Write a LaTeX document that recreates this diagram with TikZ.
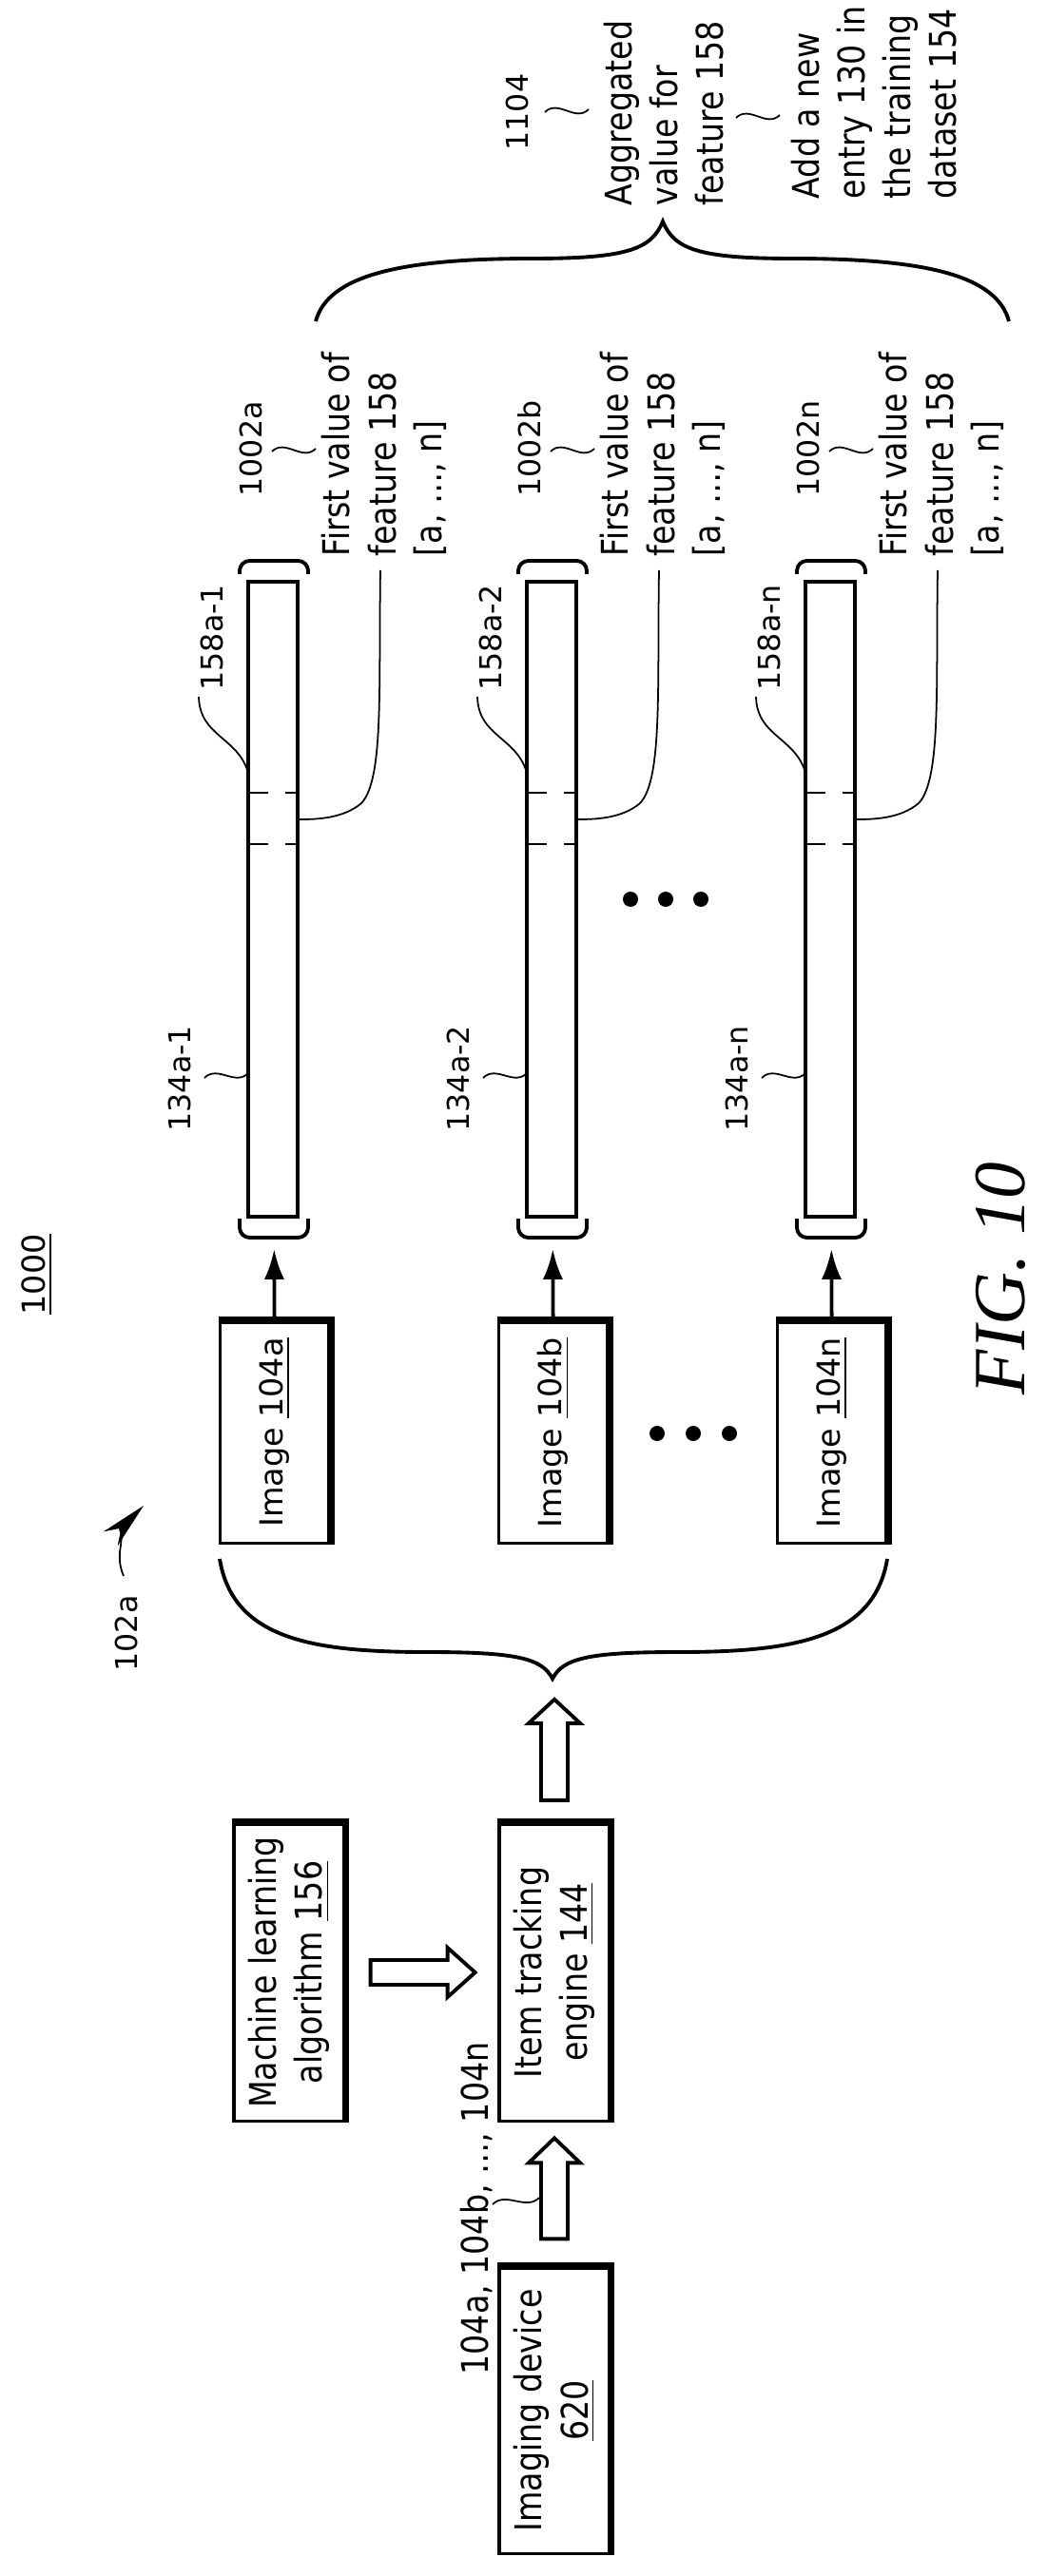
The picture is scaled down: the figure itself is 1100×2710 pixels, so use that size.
\documentclass[tikz,border=0pt]{standalone}
\usepackage{fontspec}
\setmainfont{DejaVu Sans}
\newfontfamily\condfont[FakeStretch=0.86]{DejaVu Sans}
\newfontfamily\figfont{Liberation Serif}
\usetikzlibrary{calc,arrows.meta}
\tikzset{
  box/.style={draw, line width=0.9pt, rotate=90, inner sep=0pt, align=center},
  bar/.style={draw, line width=1.1pt, rotate=90, inner sep=0pt, minimum width=6.68cm, minimum height=0.52cm},
  lbl/.style={rotate=90, anchor=west, inner sep=0pt, font=\fontsize{9}{11}\selectfont},
  txt/.style={rotate=90, anchor=west, inner sep=0pt, align=left, font=\condfont\fontsize{11}{13.7}\selectfont},
  lead/.style={line width=0.5pt},
  hollow/.style={draw, line width=1.1pt, fill=white},
}
\newcommand{\squig}[2]{\draw[lead] #1 .. controls +(14,-14) and +(-14,14) .. #2;}
\begin{document}
\begin{tikzpicture}[x=0.01cm, y=-0.01cm]
\useasboundingbox (0,0) rectangle (1100,2710);
\node[lbl, font=\fontsize{9.5}{11}\selectfont] (fignum) at (39,1384) {\underline{1000}};
\node[rotate=90, font=\figfont\itshape\fontsize{22}{26}\selectfont] (fig) at (1052,1345) {FIG. 10};
% left part
\node[box, minimum width=3.13cm, minimum height=1.16cm, font=\condfont\fontsize{11}{13.7}\selectfont] (ml) at (304,2075) {Machine learning\\algorithm \underline{156}};
\node[box, minimum width=3.13cm, minimum height=1.16cm, font=\condfont\fontsize{11}{13.7}\selectfont] (engine) at (583,2075) {Item tracking\\engine \underline{144}};
\node[box, minimum width=3cm, minimum height=1.16cm, font=\condfont\fontsize{11}{13.7}\selectfont] (camera) at (583,2536) {Imaging device\\\underline{620}};
\foreach \n in {ml,engine,camera}
  \draw[line width=2.2pt] (\n.south west) -- (\n.south east) -- (\n.north east);
\draw[hollow] ($(camera.east)+(-14,-29)$) -- ++(0,-80) -- ++(-13,0) -- ++(27,-26) -- ++(27,26) -- ++(-13,0) -- ++(0,80) -- cycle;
\draw[hollow] ($(engine.east)+(-14,-23)$) -- ++(0,-81) -- ++(-13,0) -- ++(27,-25) -- ++(27,25) -- ++(-13,0) -- ++(0,81) -- cycle;
\draw[hollow] ($(ml.south)+(26,-13)$) -- ++(81,0) -- ++(0,-13) -- ++(29,26) -- ++(-29,26) -- ++(0,-13) -- ++(-81,0) -- cycle;
\node[lbl, font=\condfont\fontsize{11}{13}\selectfont] (imgs) at (501,2499) {104a, 104b, \ldots, 104n};
\squig{(518,2319)}{(567,2312)}
\node[lbl] (ref102) at (133,1759) {102a};
\draw[lead, -{Stealth[length=14pt,width=6pt]}] (130,1658) .. controls (120,1635) and (132,1620) .. (126,1609) -- (151,1584);
% brace over the images
\draw[line width=1.1pt] (231,1640) .. controls (245,1725) and (330,1738) .. (450,1738) .. controls (545,1738) and (570,1745) .. (581,1766)
  .. controls (592,1745) and (617,1738) .. (712,1738) .. controls (832,1738) and (919,1725) .. (933,1640);
% images and feature vectors
\foreach \i/\x/\s/\t in {1/289/a/1,2/582/b/2,3/875/n/n}{
  \node[box, minimum width=2.32cm, minimum height=1.15cm, font=\fontsize{9.5}{11}\selectfont] (img\i) at (\x,1507) {Image \underline{104\s}};
  \draw[line width=2.2pt] (img\i.south west) -- (img\i.south east) -- (img\i.north east);
  \node[bar] (bar\i) at (\x-2,946) {};
  \draw[line width=1.1pt, -{Latex[length=9pt,width=6pt]}, shorten >=0.32cm] (img\i) -- (bar\i);
  \draw[line width=1.1pt, rounded corners=3pt] (\x-37,1282) -- (\x-37,1302) -- (\x+35,1302) -- (\x+35,1282);
  \draw[line width=1.1pt, rounded corners=3pt] (\x-37,604) -- (\x-37,590) -- (\x+35,590) -- (\x+35,604);
  \draw[dash pattern=on 6pt off 5pt] (\x-28,834) -- (\x+24,834) (\x-28,888) -- (\x+24,888);
  \node[lbl] (vec\i) at (\x-100,1191) {134a-\t};
  \squig{(\x-74,1134)}{(\x-28,1129)}
  \node[lbl] (feat\i) at (\x-66,727) {158a-\t};
  \draw[lead] (\x-80,733) .. controls (\x-79,775) and (\x-39,775) .. (\x-28,813);
  \node[lbl] (grp\i) at (\x-25,523) {1002\s};
  \squig{(\x-3,475)}{(\x+43,472)}
  \node[txt] (first\i) at (\x+115,586) {First value of\\feature 158\\{[}a, \ldots, n{]}};
  \draw[lead] (\x+111,600) .. controls (\x+109,720) and (\x+115,820) .. (\x+91,845) .. controls (\x+71,862) and (\x+41,862) .. (\x+24,862);
}
\foreach \y in {663,700,737} \fill (\y,946) circle (8);
\foreach \y in {691,729,767} \fill (\y,1508) circle (8);
% brace over the vectors
\draw[line width=1.1pt] (332,338) .. controls (345,290) and (420,272) .. (560,272) .. controls (660,272) and (685,262) .. (697,233)
  .. controls (709,262) and (734,272) .. (834,272) .. controls (974,272) and (1048,290) .. (1061,338);
\node[lbl] (agg) at (544,159) {1104};
\squig{(573,118)}{(619,115)}
\node[txt] (aggtxt) at (698,217) {Aggregated\\value for\\feature 158};
\squig{(774,124)}{(820,121)}
\node[txt] (entry) at (919,210) {Add a new\\entry 130 in\\the training\\dataset 154};
\end{tikzpicture}
\end{document}
